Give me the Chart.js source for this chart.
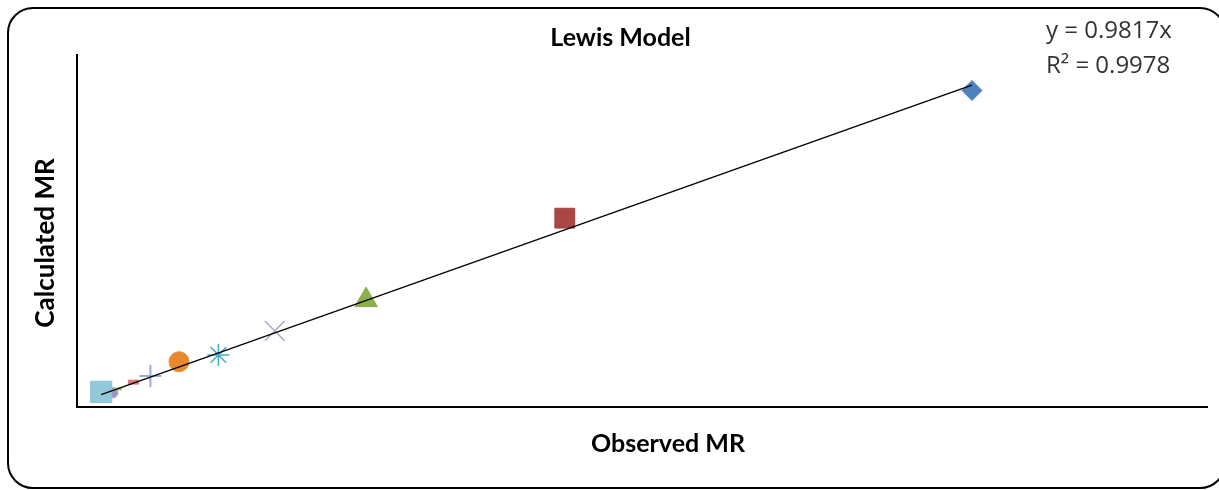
<!DOCTYPE html>
<html>
<head>
<meta charset="utf-8">
<script src="https://cdn.jsdelivr.net/npm/chart.js@4"></script>
<style>
    html, body { margin: 0; padding: 0; background: #fff; overflow: hidden; }
    #wrap { position: relative; width: 1219px; height: 490px; overflow: hidden; }
    #frame {
        position: absolute; left: 7px; top: 7px;
        width: 1219px; height: 482px;
        border: 2px solid #000; border-radius: 26px;
        box-sizing: border-box;
    }
    #chart { position: absolute; left: 0; top: 0; }
</style>
</head>
<body>
<div id="wrap">
    <div id="frame"></div>
    <canvas id="chart" width="1219" height="490"></canvas>
</div>
<script>
// Observed vs calculated moisture ratio (one point per series)
const observed   = [1.000, 0.545, 0.323, 0.221, 0.158, 0.114, 0.082, 0.063, 0.046, 0.040, 0.027];
const calculated = [0.965, 0.571, 0.318, 0.223, 0.149, 0.128, 0.084, 0.065, 0.044, 0.032, 0.035];

// Trendline y = 0.9817x, drawn between smallest and largest observed value
const trendX = [0.027, 1.000];
const trendY = [0.0265, 0.9817];

const equationLines = ['y = 0.9817x', 'R\u00B2 = 0.9978'];
const xTitle = 'Observed MR';
const yTitle = 'Calculated MR';

// Marker look for each series (Excel default series markers)
const markerStyles = [
    { style: 'rectRot',  radius: 10, fill: '#4F81BD', line: '#4A7EBB', width: 1 },
    { style: 'rect',     radius: 14, fill: '#AA4643', line: '#A5423F', width: 1 },
    { style: 'triangle', radius: 13, fill: '#8BB04A', line: '#86AA46', width: 1 },
    { style: 'crossRot', radius: 14, fill: '#B3A2C7', line: '#B3A2C7', width: 1.5 },
    { style: 'star',     radius: 11, fill: '#4BACC6', line: '#4BACC6', width: 1.5 },
    { style: 'circle',   radius: 10, fill: '#E8882F', line: '#E8882F', width: 1 },
    { style: 'cross',    radius: 11, fill: '#9AACDC', line: '#9AACDC', width: 2 },
    { style: 'line',     radius: 5.5, fill: '#D67C7A', line: '#D67C7A', width: 5 },
    { style: 'line',     radius: 4,  fill: '#A9C97A', line: '#A9C97A', width: 3 },
    { style: 'circle',   radius: 5,  fill: '#A395C1', line: '#A395C1', width: 1 },
    { style: 'rect',     radius: 15, fill: '#93C8DB', line: '#8EC3D6', width: 1 }
];

Chart.defaults.font.family = 'Lato';
Chart.defaults.color = '#000';

const datasets = [{
    type: 'line',
    data: trendX.map((x, i) => ({ x: x, y: trendY[i] })),
    borderColor: '#000',
    borderWidth: 1.3,
    pointRadius: 0,
    order: 0
}];

observed.forEach((x, i) => {
    const m = markerStyles[i];
    datasets.push({
        data: [{ x: x, y: calculated[i] }],
        pointStyle: m.style,
        pointRadius: m.radius,
        backgroundColor: m.fill,
        borderColor: m.line,
        borderWidth: m.width,
        // light blue square sits over the two tiny markers beside it
        order: i === 10 ? 1 : i + 2
    });
});

// Axis titles and equation label, placed where the original has them
const labelsPlugin = {
    id: 'labels',
    afterDraw(chart) {
        const ctx = chart.ctx;
        ctx.save();
        ctx.fillStyle = '#000';
        ctx.textAlign = 'center';
        ctx.textBaseline = 'middle';
        ctx.font = 'bold 25px Lato';
        ctx.fillText(xTitle, 668, 444);

        ctx.translate(46, 243);
        ctx.rotate(-Math.PI / 2);
        ctx.font = 'bold 26px Lato';
        ctx.fillText(yTitle, 0, 0);
        ctx.restore();

        ctx.save();
        ctx.font = '24px "Open Sans"';
        ctx.fillStyle = '#333';
        ctx.textAlign = 'left';
        ctx.textBaseline = 'alphabetic';
        ctx.fillText(equationLines[0], 1046, 38);
        ctx.fillText(equationLines[1], 1046, 73);
        ctx.restore();
    }
};

new Chart(document.getElementById('chart'), {
    type: 'scatter',
    data: { datasets: datasets },
    plugins: [labelsPlugin],
    options: {
        responsive: false,
        animation: false,
        // no extra room for big markers, the plot box is fixed
        layout: { autoPadding: false, padding: { left: 34, right: 12, top: 0, bottom: 0 } },
        plugins: {
            legend: { display: false },
            tooltip: { enabled: false },
            title: {
                display: true,
                text: 'Lewis Model',
                font: { size: 25, weight: 'bold', lineHeight: 1.2 },
                color: '#000',
                padding: { top: 23, bottom: 2 }
            }
        },
        scales: {
            x: {
                type: 'linear',
                min: 0,
                max: 1.2626,
                grid: { display: false },
                ticks: { display: false },
                border: { display: true, color: '#000', width: 2 },
                afterFit: (scale) => { scale.height = 83; }
            },
            y: {
                type: 'linear',
                min: -0.0117,
                max: 1.0744,
                grid: { display: false },
                ticks: { display: false },
                border: { display: true, color: '#000', width: 2 },
                afterFit: (scale) => { scale.width = 43; }
            }
        }
    }
});
</script>
</body>
</html>
